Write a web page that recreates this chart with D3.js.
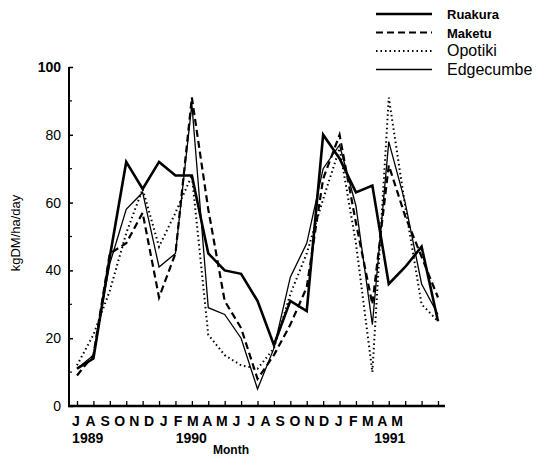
<!DOCTYPE html>
<html>
<head>
<meta charset="utf-8">
<script src="https://cdn.jsdelivr.net/npm/d3@7"></script>
<style>
  body { margin: 0; background: #fff; }
  svg { font-family: "Liberation Sans", Arial, sans-serif; }
</style>
</head>
<body>
<div id="chart"></div>
<script>
// month labels, Jul 1989 .. May 1991
const months = ['J','A','S','O','N','D','J','F','M','A','M','J','J','A','S','O','N','D','J','F','M','A','M'];
const years = ['1989', '1990', '1991'];
const yearAt = [0.8, 7.9, 21.5]; // position under the month letters
const yTicks = [0, 20, 40, 60, 80, 100];

// pasture growth, kgDM/ha/day
const ruakura    = [11, 14, 44, 72, 64, 72, 68, 68, 45, 40, 39, 31, 18, 31, 28, 80, 73, 63, 65, 36, 41, 47, 25];
const maketu     = [9, 15, 45, 48, 57, 32, 45, 91, 58, 31, 23, 8, 15, 24, 35, 67, 80, 54, 30, 71, 56, 44, 32];
const opotiki    = [12, 21, 34, 51, 64, 47, 57, 68, 21, 15, 12, 11, 17, 33, 45, 61, 76, 48, 10, 91, 59, 30, 25];
const edgecumbe  = [11, 15, 42, 58, 63, 41, 45, 89, 29, 27, 20, 5, 17, 38, 48, 70, 77, 59, 24, 78, 60, 36, 27];

const series = [
  { name: 'Ruakura', values: ruakura, width: 2.6, dash: null, bold: true },
  { name: 'Maketu', values: maketu, width: 2.2, dash: '7,4', bold: true },
  { name: 'Opotiki', values: opotiki, width: 2, dash: '1.5,3', bold: false },
  { name: 'Edgecumbe', values: edgecumbe, width: 1.3, dash: null, bold: false }
];

const width = 541, height = 458;
const svg = d3.select('#chart').append('svg')
  .attr('width', width)
  .attr('height', height);

const x = d3.scalePoint()
  .domain(d3.range(months.length))
  .range([77, 438]);

// the printed month letters sit a little tighter than the data
const xLab = d3.scaleLinear()
  .domain([0, months.length - 1])
  .range([76, 397]);

const y = d3.scaleLinear()
  .domain([0, 100])
  .range([406, 67]);

// y axis
const yAxis = svg.append('g')
  .attr('transform', 'translate(69,0)')
  .call(d3.axisLeft(y).tickValues(yTicks).tickSize(-4).tickPadding(8)
    .tickFormat(d => d));
yAxis.select('.domain').attr('stroke-width', 2).attr('d', 'M0,' + y(100) + 'V' + y(0));
yAxis.selectAll('.tick line').attr('stroke-width', 1.5);
yAxis.selectAll('.tick text')
  .attr('font-size', 14)
  .attr('fill', '#000')
  .attr('font-weight', d => d === 100 ? 'bold' : 'normal');

// minor ticks at the odd tens
svg.append('g')
  .selectAll('line')
  .data([10, 30, 50, 70, 90])
  .join('line')
  .attr('x1', 69).attr('x2', 72)
  .attr('y1', d => y(d)).attr('y2', d => y(d))
  .attr('stroke', '#000')
  .attr('stroke-width', 1.2);

// x axis
const xAxis = svg.append('g')
  .attr('transform', 'translate(0,' + y(0) + ')')
  .call(d3.axisBottom(x).tickSize(-5).tickFormat(''));
xAxis.select('.domain').attr('stroke-width', 2.5).attr('d', 'M68,0H445');
xAxis.selectAll('.tick line').attr('stroke-width', 1.3);

svg.append('g')
  .selectAll('text')
  .data(months)
  .join('text')
  .attr('x', (d, i) => xLab(i))
  .attr('y', 426)
  .attr('text-anchor', 'middle')
  .attr('font-size', 14)
  .attr('font-weight', 'bold')
  .text(d => d);

svg.append('g')
  .selectAll('text')
  .data(years)
  .join('text')
  .attr('x', (d, i) => xLab(yearAt[i]))
  .attr('y', 443)
  .attr('text-anchor', 'middle')
  .attr('font-size', 14)
  .attr('font-weight', 'bold')
  .text(d => d);

svg.append('text')
  .attr('x', 231)
  .attr('y', 454)
  .attr('text-anchor', 'middle')
  .attr('font-size', 12)
  .attr('font-weight', 'bold')
  .text('Month');

svg.append('text')
  .attr('transform', 'translate(20,233) rotate(-90)')
  .attr('text-anchor', 'middle')
  .attr('font-size', 13)
  .text('kgDM/ha/day');

// lines
const line = d3.line()
  .x((d, i) => x(i))
  .y(d => y(d));

svg.append('g')
  .selectAll('path')
  .data(series)
  .join('path')
  .attr('fill', 'none')
  .attr('stroke', '#000')
  .attr('stroke-width', d => d.width)
  .attr('stroke-dasharray', d => d.dash)
  .attr('stroke-linejoin', 'miter')
  .attr('d', d => line(d.values));

// legend
const legend = svg.append('g')
  .selectAll('g')
  .data(series)
  .join('g')
  .attr('transform', (d, i) => 'translate(376,' + (14 + i * 18.5) + ')');

legend.append('line')
  .attr('x1', 0).attr('x2', 56)
  .attr('stroke', '#000')
  .attr('stroke-width', d => d.width)
  .attr('stroke-dasharray', d => d.dash);

legend.append('text')
  .attr('x', 71)
  .attr('y', 5)
  .attr('font-size', d => d.bold ? 13 : 16)
  .attr('font-weight', d => d.bold ? 'bold' : 'normal')
  .text(d => d.name);
</script>
</body>
</html>
